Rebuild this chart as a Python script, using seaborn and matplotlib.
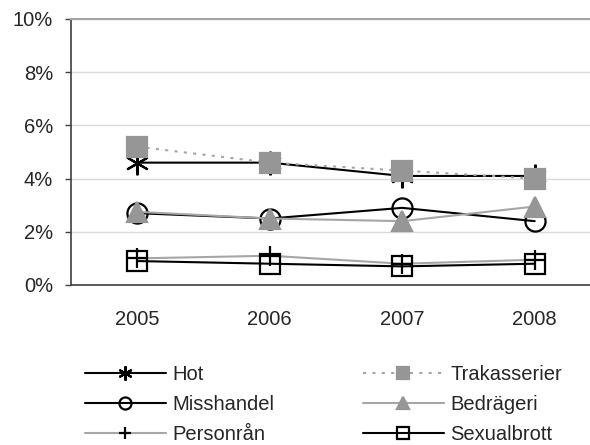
import numpy as np
import pandas as pd
import matplotlib
matplotlib.use("Agg")
import matplotlib.pyplot as plt
import seaborn as sns
from matplotlib.ticker import FixedLocator, PercentFormatter

years = ["2005", "2006", "2007", "2008"]
hot = [4.6, 4.6, 4.1, 4.1]
trakasserier = [5.2, 4.6, 4.3, 4.0]
misshandel = [2.7, 2.5, 2.9, 2.4]
bedrageri = [2.75, 2.5, 2.4, 2.95]
personran = [1.0, 1.1, 0.8, 0.95]
sexualbrott = [0.9, 0.8, 0.7, 0.8]

series = {
    "Hot": hot,
    "Misshandel": misshandel,
    "Personrån": personran,
    "Trakasserier": trakasserier,
    "Bedrägeri": bedrageri,
    "Sexualbrott": sexualbrott,
}

df = pd.concat(
    [pd.DataFrame({"year": years, "value": vals, "series": name}) for name, vals in series.items()],
    ignore_index=True,
)

sns.set_style("white")
plt.rcParams["font.family"] = ["Liberation Sans", "DejaVu Sans"]
fs = 14.5

# line colour, line style, marker, marker face, marker edge, marker size
styles = {
    "Hot": ("black", "-", (6, 2, 0), "black", "black", 17),
    "Misshandel": ("black", "-", "o", "none", "black", 14.5),
    "Personrån": ("#a6a6a6", "-", "+", "black", "black", 15),
    "Trakasserier": ("#a6a6a6", (0, (1.5, 3)), "s", "#969696", "#969696", 14.5),
    "Bedrägeri": ("#a6a6a6", "-", "^", "#969696", "#969696", 14.5),
    "Sexualbrott": ("black", "-", "s", "none", "black", 14.5),
}

fig = plt.figure(figsize=(5.9, 4.45), dpi=100)
ax = fig.add_axes([71 / 590, 160 / 445, 530 / 590, 266 / 445])

handles = {}
for name in series:
    color, ls, marker, mfc, mec, ms = styles[name]
    sub = df[df["series"] == name]
    sns.lineplot(data=sub, x="year", y="value", ax=ax, color=color, linestyle=ls,
                 linewidth=1.5, marker=marker, markersize=ms, markerfacecolor=mfc,
                 markeredgecolor=mec, markeredgewidth=1.6, sort=False)
    handles[name] = ax.lines[-1]

ax.set_xlim(-0.5, 3.5)
ax.set_ylim(0, 10)
ax.set_xlabel("")
ax.set_ylabel("")
ax.yaxis.set_major_locator(FixedLocator([0, 2, 4, 6, 8, 10]))
ax.yaxis.set_major_formatter(PercentFormatter(decimals=0))
ax.grid(axis="y", color="#d9d9d9", linewidth=1)
ax.set_axisbelow(True)

ax.xaxis.set_minor_locator(FixedLocator([0.5, 1.5, 2.5]))
ax.tick_params(axis="x", which="major", length=0, pad=18, labelsize=fs)
ax.tick_params(axis="x", which="minor", length=4, width=1, color="#404040", direction="out")
ax.tick_params(axis="y", which="major", length=4, width=1, color="#404040",
               direction="out", pad=9, labelsize=fs, left=True)

for s in ["left", "bottom"]:
    ax.spines[s].set_color("#404040")
    ax.spines[s].set_linewidth(1.2)
ax.spines["top"].set_color("#a6a6a6")
ax.spines["top"].set_linewidth(1.5)
ax.spines["right"].set_visible(False)

leg_kw = dict(frameon=False, fontsize=fs, handlelength=4.0, handletextpad=0.35,
              labelspacing=0.55, markerscale=0.6, borderaxespad=0, borderpad=0)
left_names = ["Hot", "Misshandel", "Personrån"]
right_names = ["Trakasserier", "Bedrägeri", "Sexualbrott"]
leg1 = fig.legend([handles[n] for n in left_names], left_names, loc="upper left",
                  bbox_to_anchor=(85 / 590, 1 - 365 / 445), **leg_kw)
leg2 = fig.legend([handles[n] for n in right_names], right_names, loc="upper left",
                  bbox_to_anchor=(363 / 590, 1 - 365 / 445), **leg_kw)

fig.savefig("out.png", dpi=100)
